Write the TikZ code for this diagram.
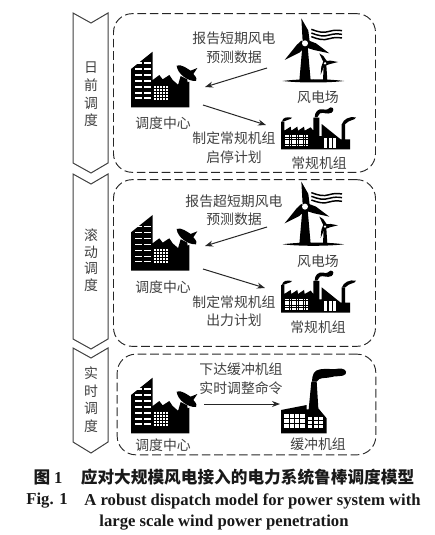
\documentclass[tikz,border=0pt]{standalone}
\usepackage{fontspec}
\setmainfont{Liberation Serif}
\newfontfamily\cjk{Noto Sans CJK SC}
\usetikzlibrary{arrows.meta}
\definecolor{txt}{gray}{0.25}
\tikzset{
  lab/.style={font=\cjk\fontsize{10.4}{12}\selectfont,text=txt,inner sep=0pt},
  vlab/.style={font=\cjk\fontsize{10.4}{12}\selectfont,text=txt,inner sep=0pt},
  captxt/.style={font=\cjk\bfseries\fontsize{12.5}{14}\selectfont,text=black!90,inner sep=0pt},
  encap/.style={font=\bfseries\fontsize{12.5}{14}\selectfont,text=black!90,inner sep=0pt},
  chev/.style={draw=black!75,line width=.75pt,fill=white},
  dashbox/.style={draw=black!85,line width=.7pt,dash pattern=on 6.5pt off 2.8pt,rounded corners=14pt,inner sep=0pt},
  conn/.style={draw=black!85,line width=.75pt,-{Stealth[length=6pt,width=4.5pt]}},
  dispatch/.pic={
    \begin{scope}[x=.25pt,y=-.25pt]
      \fill (213,322)--(213,207)--(278,155)--(278,240)--(298,225)--(308,238)--(328,225)--(338,240)--(355,255)--(388,245)--(388,322)--cycle;
      \foreach \yy in {187,205,223,241,259,277,292}{
        \fill[white] (224,\yy) rectangle (246,\yy+5);
        \fill[white] (252,\yy) rectangle (272,\yy+5);}
      \foreach \xa in {282,291,300,309,318}\foreach \yb in {258,267,276,285,294}
        \fill[white] (\xa,\yb) rectangle (\xa+5,\yb+5);
      \fill (350,197) .. controls (362,190) and (385,208) .. (392,212) -- (412,204) -- (400,222) .. controls (410,232) and (412,240) .. (408,243) .. controls (385,245) and (352,222) .. cycle;
      \fill (362,228)--(352,262)--(384,262)--(382,238)--cycle;
    \end{scope}},
  farm/.pic={
    \begin{scope}[x=.25pt,y=-.25pt]
      \fill (727,140)--(743,140)--(752,242)--(718,242)--cycle;
      \fill (668,243) .. controls (720,236) and (800,236) .. (852,243) .. controls (800,249) and (720,249) .. cycle;
      \fill (728,125)--(724,55)--(745,92)--(749,125)--cycle;
      \fill (742,120)--(768,130)--(808,160)--(762,150)--(736,142)--cycle;
      \fill (724,122)--(710,135)--(674,180)--(718,158)--(742,136)--cycle;
      \fill[white] (735,130) circle (9);
      \fill (791,195)--(799,195)--(802,242)--(789,242)--cycle;
      \fill (792,190)--(778,160)--(790,168)--(801,184)--cycle;
      \fill (792,183)--(812,182)--(834,186)--(810,192)--(796,197)--cycle;
      \fill (800,190)--(790,205)--(782,224)--(784,200)--(790,184)--cycle;
      \fill[white] (795,190) circle (4);
      \foreach \dy in {0,11,22}{
        \draw[line width=1.1pt] (754,88+\dy) .. controls (775,96+\dy) and (790,100+\dy) .. (808,94+\dy) .. controls (822,90+\dy) and (832,90+\dy) .. (846,92+\dy);}
    \end{scope}},
  plant/.pic={
    \begin{scope}[x=.25pt,y=-.25pt]
      \fill (663,448)--(663,365)--(673,365)--(673,392)--(692,380)--(694,392)--(712,380)--(714,392)--(732,380)--(734,392)--(752,382)--(760,392)--(760,353)--(778,353)--(778,408)--(785,408)--(785,372)--(842,418)--(845,418)--(845,372)--(855,372)--(855,418)--(870,418)--(870,448)--cycle;
      \foreach \xa in {675,682,689,696,703,710,717,724,731,738}\foreach \yb in {406,413,420,427,434}
        \fill[white] (\xa,\yb) rectangle (\xa+5,\yb+5);
      \foreach \xa in {793,806,819}\fill[white] (\xa,413) rectangle (\xa+9,443);
      \fill (764,352) .. controls (764,335) and (775,325) .. (790,328) .. controls (800,332) and (805,326) .. (812,322) .. controls (822,322) and (822,332) .. (815,338) .. controls (800,345) and (790,335) .. (780,340) .. controls (775,345) and (774,350) .. (772,352) -- cycle;
      \fill (666,365) .. controls (668,352) and (680,350) .. (696,353) .. controls (692,360) and (680,358) .. (672,364) -- cycle;
      \fill (846,372) .. controls (850,358) and (868,348) .. (888,352) .. controls (885,362) and (868,358) .. (856,372) -- cycle;
    \end{scope}},
  buffer/.pic={
    \begin{scope}[x=.25pt,y=-.25pt]
      \fill (843,280)--(843,210)--(920,195)--(920,208)--(926,208)--(934,125)--(950,125)--(955,205)--(980,235)--(980,280)--cycle;
      \foreach \xa in {853,869,885,901}\foreach \yb in {222,237,252}
        \fill[white] (\xa,\yb) rectangle (\xa+13,\yb+13);
      \foreach \xa in {925,941,957}\foreach \yb in {231,243,255}
        \fill[white] (\xa,\yb) rectangle (\xa+12,\yb+9);
      \fill (936,125) .. controls (936,105) and (942,90) .. (960,88) .. controls (980,84) and (1000,90) .. (1015,86) .. controls (1032,84) and (1042,92) .. (1037,102) .. controls (1030,112) and (1005,106) .. (990,112) .. controls (975,116) and (958,110) .. (950,125) -- cycle;
    \end{scope}}
}
\begin{document}
\begin{tikzpicture}[x=.75pt,y=-.75pt]
\useasboundingbox (0,0) rectangle (435,535);
% chevrons
\draw[chev] (73,13)--(91,23)--(108,13)--(108,163)--(91,173)--(73,163)--cycle;
\draw[chev] (73,174)--(91,184)--(108,174)--(108,339)--(91,349)--(73,339)--cycle;
\draw[chev] (73,348)--(91,358)--(108,348)--(108,442)--(91,453)--(73,442)--cycle;
% dashed regions
\node[dashbox,minimum width=196.5pt,minimum height=119pt] (box1) at (244.5,93) {};
\node[dashbox,minimum width=196.5pt,minimum height=125pt] (box2) at (244.5,263) {};
\node[dashbox,minimum width=194pt,minimum height=75.5pt] (box3) at (246.5,404.5) {};
% chevron labels
\foreach \nm/\ch/\yy in {a/日/68,b/前/85,c/调/103,d/度/120,e/滚/235,f/动/252,g/调/268,h/度/285,i/实/373,j/时/391,k/调/408,l/度/426}
  \node[vlab] (v\nm) at (91,\yy) {\ch};
% icons
\pic at (60,0) {dispatch};
\pic at (60,163.3) {dispatch};
\pic at (60,326) {dispatch};
\pic at (60,0) {farm};
\pic at (60,163.3) {farm};
\pic at (60,0) {plant};
\pic at (60,163.3) {plant};
\pic at (0,340) {buffer};
% panel 1
\node[lab] (t1) at (234,38) {报告短期风电};
\node[lab] (t2) at (234,57) {预测数据};
\node[lab] (c1) at (163,123) {调度中心};
\node[lab] (f1) at (318,97) {风电场};
\node[lab] (t3) at (234,138) {制定常规机组};
\node[lab] (t4) at (234,157) {启停计划};
\node[lab] (g1) at (319,163) {常规机组};
\coordinate (a1s) at (267,68); \coordinate (a1e) at (205,87);
\coordinate (a2s) at (203,105); \coordinate (a2e) at (266,125);
\draw[conn] (a1s) -- (a1e);
\draw[conn] (a2s) -- (a2e);
% panel 2
\node[lab] (t5) at (234,201) {报告超短期风电};
\node[lab] (t6) at (234,219) {预测数据};
\node[lab] (c2) at (163,287) {调度中心};
\node[lab] (f2) at (318,261) {风电场};
\node[lab] (t7) at (234,302) {制定常规机组};
\node[lab] (t8) at (234,320) {出力计划};
\node[lab] (g2) at (318,327) {常规机组};
\coordinate (b1s) at (267,227); \coordinate (b1e) at (205,246);
\coordinate (b2s) at (203,269); \coordinate (b2e) at (265,288);
\draw[conn] (b1s) -- (b1e);
\draw[conn] (b2s) -- (b2e);
% panel 3
\node[lab] (t9) at (241,369) {下达缓冲机组};
\node[lab] (t10) at (241,388) {实时调整命令};
\node[lab] (c3) at (163,445) {调度中心};
\node[lab] (g3) at (318,444) {缓冲机组};
\coordinate (d1s) at (204,404); \coordinate (d1e) at (280,404);
\draw[conn] (d1s) -- (d1e);
% captions
\node[captxt] (cap1) at (48,477) {图 {\rmfamily\bfseries 1}};
\node[captxt] (cap2) at (247.5,477) {应对大规模风电接入的电力系统鲁棒调度模型};
\node[encap] (cap3) at (47,501) {Fig. 1};
\node[encap] (cap4) at (252.5,501) {A robust dispatch model for power system with};
\node[encap] (cap5) at (224,523) {large scale wind power penetration};
\end{tikzpicture}
\end{document}
